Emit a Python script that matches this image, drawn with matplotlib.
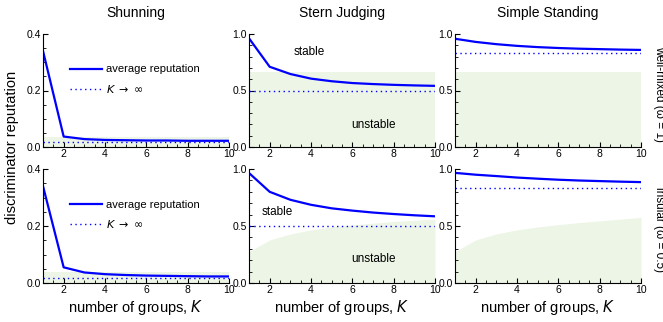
import numpy as np
import matplotlib
matplotlib.use("Agg")
import matplotlib.pyplot as plt
from matplotlib.ticker import MultipleLocator, FormatStrFormatter

plt.rcParams['font.family'] = ['Liberation Sans', 'DejaVu Sans']

K = [1, 2, 3, 4, 5, 6, 7, 8, 9, 10]
titles = ["Shunning", "Stern Judging", "Simple Standing"]
row_labels = ["well-mixed (\u03c9 = 1)", "insular (\u03c9 = 0.5)"]

# average reputation [row][col]
rep = [
    [[0.34, 0.037, 0.028, 0.025, 0.024, 0.023, 0.023, 0.022, 0.022, 0.022],
     [0.962, 0.71, 0.646, 0.605, 0.582, 0.566, 0.557, 0.55, 0.545, 0.541],
     [0.958, 0.93, 0.91, 0.895, 0.884, 0.876, 0.870, 0.866, 0.862, 0.859]],
    [[0.34, 0.055, 0.037, 0.031, 0.028, 0.026, 0.025, 0.024, 0.023, 0.023],
     [0.965, 0.80, 0.73, 0.686, 0.655, 0.635, 0.618, 0.605, 0.594, 0.585],
     [0.966, 0.95, 0.938, 0.925, 0.915, 0.906, 0.899, 0.894, 0.889, 0.885]],
]
# K -> infinity limit
limit = [[0.018, 0.5, 0.83], [0.018, 0.5, 0.833]]
# upper boundary of the unstable region
unstable = [
    [[0.037] * 10, [0.664] * 10, [0.664] * 10],
    [[0.037] * 10,
     [0.275, 0.378, 0.43, 0.466, 0.492, 0.51, 0.525, 0.54, 0.55, 0.56],
     [0.275, 0.378, 0.43, 0.466, 0.492, 0.512, 0.53, 0.545, 0.56, 0.575]],
]
ymax = [0.4, 1.0, 1.0]

fig = plt.figure(figsize=(6.63, 3.22), dpi=100)
W, H = 663, 322
xl = [43, 249, 455]
xr = [229, 435, 641]
yt = [34, 169]
yb = [147, 283]
green = "#edf6e6"
blue = "#0000ff"

axes = []
for r in range(2):
    for c in range(3):
        ax = fig.add_axes([xl[c] / W, 1 - yb[r] / H, (xr[c] - xl[c]) / W, (yb[r] - yt[r]) / H])
        ax.fill_between(K, 0, unstable[r][c], color=green, lw=0)
        ax.plot(K, rep[r][c], color=blue, lw=1.6, label="average reputation")
        ax.plot([K[0], K[-1]], [limit[r][c]] * 2, color=blue, lw=1.0, ls=(0, (1, 2.5)),
                label=r"$K$ $\rightarrow$ $\infty$")
        ax.set_xlim(1, 10)
        ax.set_ylim(0, ymax[c])
        for s in ["top", "right"]:
            ax.spines[s].set_visible(False)
        ax.spines["left"].set_linewidth(0.8)
        ax.spines["bottom"].set_linewidth(0.8)
        ax.xaxis.set_major_locator(MultipleLocator(2))
        ax.xaxis.set_minor_locator(MultipleLocator(0.5))
        if c == 0:
            ax.yaxis.set_major_locator(MultipleLocator(0.2))
            ax.yaxis.set_minor_locator(MultipleLocator(0.05))
        else:
            ax.yaxis.set_major_locator(MultipleLocator(0.5))
            ax.yaxis.set_minor_locator(MultipleLocator(0.1))
        ax.yaxis.set_major_formatter(FormatStrFormatter('%.1f'))
        ax.tick_params(which='major', direction='in', length=3.5, width=0.8, labelsize=7.5, pad=1.5)
        ax.tick_params(which='minor', direction='in', length=2, width=0.6)
        if r == 0:
            ax.set_title(titles[c], fontsize=10, pad=12)
        if r == 1:
            ax.set_xlabel("number of groups, $K$", fontsize=10.5, labelpad=2)
        if c == 0:
            ax.legend(loc="upper left", bbox_to_anchor=(0.12, 0.77), frameon=False,
                      fontsize=8, handlelength=2.9, handletextpad=0.35, labelspacing=0.75,
                      borderaxespad=0)
        axes.append(ax)

# stable / unstable labels
axes[1].text(3.9, 0.84, "stable", fontsize=8.5, ha="center", va="center")
axes[1].text(7.0, 0.195, "unstable", fontsize=8.5, ha="center", va="center")
axes[4].text(2.35, 0.62, "stable", fontsize=8.5, ha="center", va="center")
axes[4].text(7.0, 0.21, "unstable", fontsize=8.5, ha="center", va="center")

fig.text(12 / W, 1 - 147 / H, "discriminator reputation", rotation=90, fontsize=10.5,
         ha="center", va="center")
for r in range(2):
    fig.text(659 / W, 1 - ((yt[r] + yb[r]) / 2 + 4) / H, row_labels[r], rotation=270,
             fontsize=8.5, ha="center", va="center")

fig.savefig("out.png", dpi=100)
